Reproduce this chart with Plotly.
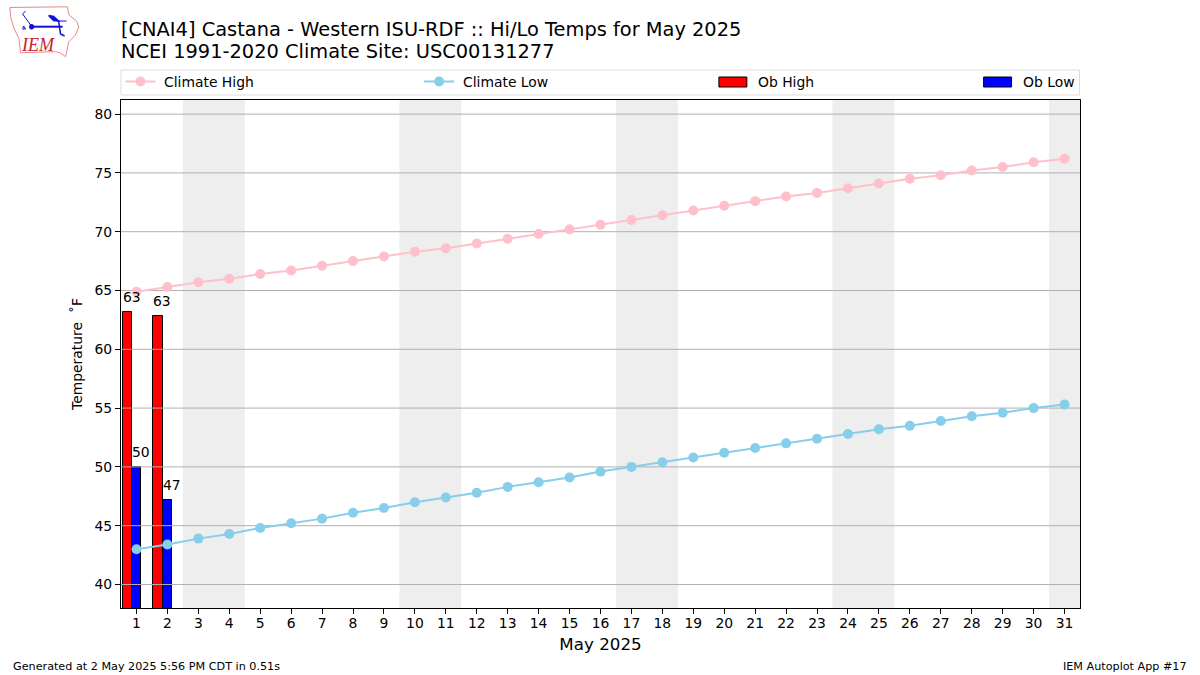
# Hi/Lo temps for the month, climate lines vs observed bars

import plotly.graph_objects as go

WIDTH = 1200
HEIGHT = 675
FONT = "DejaVu Sans"

days = list(range(1, 32))
climate_high = [64.9, 65.3, 65.7, 66.0, 66.4, 66.7, 67.1, 67.5, 67.9, 68.3, 68.6,
                69.0, 69.4, 69.8, 70.2, 70.6, 71.0, 71.4, 71.8, 72.2, 72.6, 73.0,
                73.3, 73.7, 74.1, 74.5, 74.8, 75.2, 75.5, 75.9, 76.2]
climate_low = [43.0, 43.4, 43.9, 44.3, 44.8, 45.2, 45.6, 46.1, 46.5, 47.0, 47.4,
               47.8, 48.3, 48.7, 49.1, 49.6, 50.0, 50.4, 50.8, 51.2, 51.6, 52.0,
               52.4, 52.8, 53.2, 53.5, 53.9, 54.3, 54.6, 55.0, 55.3]
ob_days = [1, 2]
ob_high = [63.2, 62.8]
ob_low = [50.0, 47.2]
ob_high_labels = ["63", "63"]
ob_low_labels = ["50", "47"]
weekends = [(3, 4), (10, 11), (17, 18), (24, 25), (31, 31)]
y_ticks = [40, 45, 50, 55, 60, 65, 70, 75, 80]

M_L, M_R, M_T, M_B = 120.5, 119.5, 100, 67
PINK = "#ffc0cb"
SKY = "#87ceeb"


def px(x):
    return (x - M_L) / (WIDTH - M_L - M_R)


def py(y):
    return 1 - (y - M_T) / (HEIGHT - M_T - M_B)


def pixel_shape(kind, x0, y0, x1, y1, **kw):
    return dict(type=kind, xref="paper", yref="paper", x0=px(x0), y0=py(y0),
                x1=px(x1), y1=py(y1), **kw)


def pixel_path(points, **kw):
    d = "M" + "L".join(f"{px(x):.5f},{py(y):.5f}" for x, y in points)
    return dict(type="path", xref="paper", yref="paper", path=d, **kw)


fig = go.Figure()

fig.add_trace(go.Bar(x=ob_days, y=ob_high, name="Ob High", width=0.3, offset=-0.45,
                     marker=dict(color="#ff0000", line=dict(color="black", width=1)),
                     showlegend=False))
fig.add_trace(go.Bar(x=ob_days, y=ob_low, name="Ob Low", width=0.3, offset=-0.15,
                     marker=dict(color="#0000ff", line=dict(color="black", width=1)),
                     showlegend=False))

# grid sits on top of the bars, under the climate lines
grid_x, grid_y = [], []
for v in y_ticks:
    grid_x += [0.5, 31.5, None]
    grid_y += [v, v, None]
fig.add_trace(go.Scatter(x=grid_x, y=grid_y, mode="lines", hoverinfo="skip",
                         line=dict(color="#b0b0b0", width=1), showlegend=False))

fig.add_trace(go.Scatter(x=days, y=climate_high, name="Climate High", mode="lines+markers",
                         line=dict(color=PINK, width=2), marker=dict(color=PINK, size=10),
                         showlegend=False))
fig.add_trace(go.Scatter(x=days, y=climate_low, name="Climate Low", mode="lines+markers",
                         line=dict(color=SKY, width=2), marker=dict(color=SKY, size=10),
                         showlegend=False))

shapes = []
for a, b in weekends:
    shapes.append(dict(type="rect", xref="x", yref="paper", x0=a - 0.5, x1=b + 0.5,
                       y0=0, y1=1, fillcolor="#eeeeee", line_width=0, layer="below"))

# legend strip above the axes
shapes.append(pixel_shape("rect", 120.5, 70, 1080, 95, fillcolor="white",
                          line=dict(color="#dddddd", width=1)))
for x0, color in [(125, PINK), (424, SKY)]:
    shapes.append(pixel_shape("line", x0, 81.5, x0 + 30, 81.5, line=dict(color=color, width=2)))
    shapes.append(pixel_shape("circle", x0 + 10, 76.5, x0 + 20, 86.5, fillcolor=color,
                              line=dict(color=color, width=0)))
for x0, color in [(719, "#ff0000"), (984, "#0000ff")]:
    shapes.append(pixel_shape("rect", x0, 77, x0 + 28, 87, fillcolor=color,
                              line=dict(color="black", width=1)))

# IEM logo
LOGO_RED = "#e58a8a"
LOGO_BLUE = "#1010d8"
shapes.append(pixel_path([(9.3, 7.5), (66.7, 6.8), (68.5, 15), (76, 21), (78.3, 27), (75, 35),
                          (68.3, 41.7), (65, 56.7), (60, 53), (55, 51.7), (20, 52.7), (18.3, 38.3),
                          (13.3, 28.3), (10, 16.7), (9.3, 7.5)],
                         line=dict(color=LOGO_RED, width=1)))
shapes.append(pixel_path([(31, 26.7), (62, 26.7)], line=dict(color=LOGO_BLUE, width=2)))
shapes.append(pixel_shape("circle", 28.5, 24, 33.5, 29.5, fillcolor=LOGO_BLUE,
                          line=dict(color=LOGO_BLUE, width=0)))
shapes.append(pixel_path([(48, 15.5), (53, 16.5), (58, 21), (53, 20.5), (48, 15.5)],
                         fillcolor=LOGO_BLUE, line=dict(color=LOGO_BLUE, width=1.5)))
shapes.append(pixel_path([(57, 21), (66, 21)], line=dict(color=LOGO_BLUE, width=1)))
shapes.append(pixel_path([(58, 21), (60, 34), (64, 36)], line=dict(color=LOGO_BLUE, width=1.5)))
shapes.append(pixel_path([(22, 14), (30, 25)], line=dict(color=LOGO_BLUE, width=1)))
shapes.append(pixel_path([(22, 14), (25, 11)], line=dict(color=LOGO_BLUE, width=1)))
shapes.append(pixel_path([(23, 26), (25, 29), (22, 29), (23, 26)], line=dict(color=LOGO_BLUE, width=1)))

annotations = []
# bar value labels
for d, h, ht, l, lt in zip(ob_days, ob_high, ob_high_labels, ob_low, ob_low_labels):
    annotations.append(dict(x=d - 0.45, y=h + 0.5, xref="x", yref="y", text=ht, showarrow=False,
                            xanchor="left", yanchor="bottom", borderpad=0, xshift=-1,
                            font=dict(size=13.9, color="black")))
    annotations.append(dict(x=d - 0.15, y=l + 0.5, xref="x", yref="y", text=lt, showarrow=False,
                            xanchor="left", yanchor="bottom", borderpad=0, xshift=-1,
                            font=dict(size=13.9, color="black")))


def pixel_text(x, y, text, size, xanchor="left", **font):
    return dict(x=px(x), y=py(y), xref="paper", yref="paper", text=text, showarrow=False,
                xanchor=xanchor, yanchor="middle", borderpad=0,
                font=dict(size=size, color=font.pop("color", "black"), **font))


for x, label in [(163, "Climate High"), (462, "Climate Low"), (757, "Ob High"), (1022, "Ob Low")]:
    annotations.append(pixel_text(x, 81.5, label, 13.9))
annotations.append(pixel_text(119, 29, "[CNAI4] Castana - Western ISU-RDF :: Hi/Lo Temps for May 2025", 19.4))
annotations.append(pixel_text(119, 51.5, "NCEI 1991-2020 Climate Site: USC00131277", 19.4))
annotations.append(pixel_text(11, 666, "Generated at 2 May 2025 5:56 PM CDT in 0.51s", 11.2))
annotations.append(pixel_text(1189, 666, "IEM Autoplot App #17", 11.2, xanchor="right"))
annotations.append(pixel_text(19.5, 45.5, "<i>IEM</i>", 18, color="#c8202a", family="Liberation Serif"))

fig.update_layout(
    width=WIDTH, height=HEIGHT, autosize=False,
    margin=dict(l=M_L, r=M_R, t=M_T, b=M_B),
    paper_bgcolor="white", plot_bgcolor="white",
    font=dict(family=FONT, color="black", size=13.9),
    barmode="overlay", showlegend=False, bargap=0,
    shapes=shapes, annotations=annotations,
)
fig.update_xaxes(range=[0.5, 31.5], tickmode="array", tickvals=days,
                 ticktext=[str(d) for d in days], ticks="outside", ticklen=5,
                 tickcolor="black", showgrid=False, zeroline=False, showline=True,
                 linecolor="black", linewidth=1, mirror=True, tickfont=dict(size=13.9),
                 ticklabelstandoff=-3,
                 title=dict(text="May 2025", font=dict(size=16.7), standoff=8))
fig.update_yaxes(range=[38, 81.2], tickmode="array", tickvals=y_ticks,
                 ticktext=[str(v) for v in y_ticks], ticks="outside", ticklen=5,
                 tickcolor="black", showgrid=False, zeroline=False, showline=True,
                 linecolor="black", linewidth=1, mirror=True, tickfont=dict(size=13.9),
                 title=dict(text="Temperature\u2004 ˚F", font=dict(size=13.9), standoff=8))

# the browser's default body margin would push the fixed-size figure off the page
fig.write_html("out.html", config=dict(displayModeBar=False),
               post_script="document.body.style.margin = '0';")
